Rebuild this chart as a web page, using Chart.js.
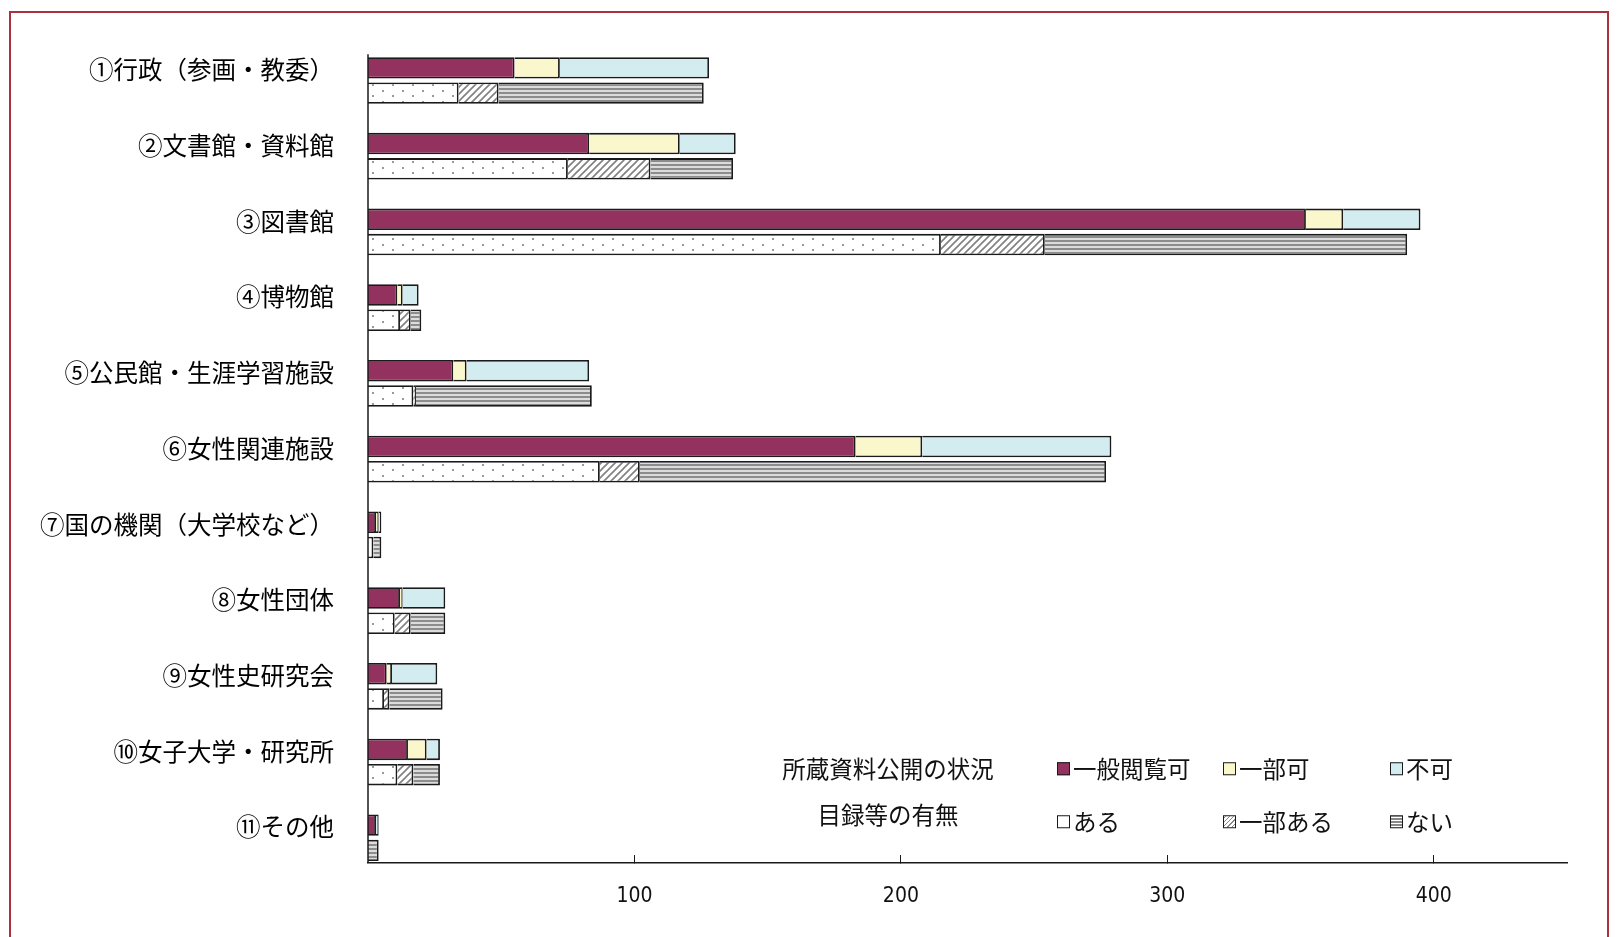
<!DOCTYPE html>
<html>
<head>
<meta charset="utf-8">
<script src="https://cdn.jsdelivr.net/npm/chart.js@4.4.1/dist/chart.umd.min.js"></script>
<style>
body{margin:0;background:#fff;overflow:hidden}
#wrap{position:relative;width:1618px;height:937px}
#frame{position:absolute;left:9px;top:11px;width:1600px;height:1000px;border:2px solid #a8323e;box-sizing:border-box}
canvas{position:absolute;left:0;top:0}
.lg{position:absolute;font-family:"Noto Sans CJK JP",sans-serif;font-size:23.5px;color:#111;white-space:nowrap;line-height:1}
.lg-title{transform:translate(-50%,-50%)}
.lg-item{transform:translateY(-50%);display:flex;align-items:center;gap:3px}
.box{display:inline-block;width:11px;height:11px;border:1.5px solid #1a1a1a;background:#fff}
</style>
</head>
<body>
<div id="wrap">
  <canvas id="chart" width="1618" height="937"></canvas>
  <div id="frame"></div>
  <div class="lg lg-title" style="left:888px;top:769px">所蔵資料公開の状況</div>
  <div class="lg lg-title" style="left:888px;top:815px">目録等の有無</div>
  <div class="lg lg-item" style="left:1057px;top:769px"><span class="box" style="background:#93325f"></span>一般閲覧可</div>
  <div class="lg lg-item" style="left:1223px;top:769px"><span class="box" style="background:#fbf7cc"></span>一部可</div>
  <div class="lg lg-item" style="left:1390px;top:769px"><span class="box" style="background:#d2ecf0"></span>不可</div>
  <div class="lg lg-item" style="left:1057px;top:822px"><span class="box"></span>ある</div>
  <div class="lg lg-item" style="left:1223px;top:822px"><span class="box" style="background:repeating-linear-gradient(-45deg,#fff 0 2px,#888 2px 3px)"></span>一部ある</div>
  <div class="lg lg-item" style="left:1390px;top:822px"><span class="box" style="background:repeating-linear-gradient(0deg,#fff 0 1px,#888 1px 3px)"></span>ない</div>
</div>
<script>
const categories = ['①行政（参画・教委）', '②文書館・資料館', '③図書館', '④博物館', '⑤公民館・生涯学習施設',
  '⑥女性関連施設', '⑦国の機関（大学校など）', '⑧女性団体', '⑨女性史研究会', '⑩女子大学・研究所', '⑪その他'];

// 所蔵資料公開の状況
const ippanEtsuran = [55, 83, 352, 11, 32, 183, 3, 12, 7, 15, 3];
const ichibuKa     = [17, 34, 14, 2, 5, 25, 1, 1, 2, 7, 0];
const fuka         = [56, 21, 29, 6, 46, 71, 1, 16, 17, 5, 1];

// 目録等の有無
const aru          = [34, 75, 215, 12, 17, 87, 2, 10, 6, 11, 0];
const ichibuAru    = [15, 31, 39, 4, 1, 15, 0, 6, 2, 6, 0];
const nai          = [77, 31, 136, 4, 66, 175, 3, 13, 20, 10, 4];

const xTicks = [100, 200, 300, 400];

function makePattern(w, h, draw) {
  const c = document.createElement('canvas');
  c.width = w; c.height = h;
  const g = c.getContext('2d');
  g.fillStyle = '#fff';
  g.fillRect(0, 0, w, h);
  draw(g);
  return document.getElementById('chart').getContext('2d').createPattern(c, 'repeat');
}

const dots = makePattern(20, 11, g => {
  g.fillStyle = '#9a9a9a';
  g.fillRect(2, 2, 2, 2);
  g.fillRect(12, 7, 2, 2);
});
const hatch = makePattern(7, 7, g => {
  g.strokeStyle = '#808080';
  g.lineWidth = 1.6;
  g.beginPath();
  g.moveTo(-1, 8); g.lineTo(8, -1);
  g.moveTo(-1, 1); g.lineTo(1, -1);
  g.moveTo(6, 8); g.lineTo(8, 6);
  g.stroke();
});
const stripes = makePattern(4, 4, g => {
  g.fillStyle = '#dcdcdc';
  g.fillRect(0, 0, 4, 4);
  g.fillStyle = '#8c8c8c';
  g.fillRect(0, 0, 4, 2);
});

const zeros = categories.map(() => 0);
const edge = '#1a1a1a';

function ds(label, data, bg, stack) {
  return { label, data, backgroundColor: bg, borderColor: edge, borderWidth: 1.8, stack };
}

const yAxisLine = {
  id: 'yAxisLine',
  afterDraw(chart) {
    const el = chart.getDatasetMeta(1).data[0];
    const top = el.y - el.height / 2 - 3;
    const ctx = chart.ctx;
    ctx.save();
    ctx.strokeStyle = edge;
    ctx.lineWidth = 1.5;
    ctx.beginPath();
    ctx.moveTo(chart.chartArea.left, top);
    ctx.lineTo(chart.chartArea.left, chart.chartArea.bottom);
    ctx.stroke();
    ctx.restore();
  }
};

new Chart(document.getElementById('chart'), {
  type: 'bar',
  data: {
    labels: categories,
    datasets: [
      { label: '', data: zeros, backgroundColor: 'rgba(0,0,0,0)', borderWidth: 0, stack: 'gap' },
      ds('一般閲覧可', ippanEtsuran, '#93325f', 'koukai'),
      ds('一部可', ichibuKa, '#fbf7cc', 'koukai'),
      ds('不可', fuka, '#d2ecf0', 'koukai'),
      ds('ある', aru, dots, 'mokuroku'),
      ds('一部ある', ichibuAru, hatch, 'mokuroku'),
      ds('ない', nai, stripes, 'mokuroku')
    ]
  },
  options: {
    indexAxis: 'y',
    responsive: false,
    devicePixelRatio: 1,
    animation: false,
    categoryPercentage: 1.0,
    barPercentage: 0.85,
    layout: { padding: { top: 30, right: 51, left: 0, bottom: 0 } },
    plugins: { legend: { display: false }, tooltip: { enabled: false } },
    scales: {
      x: {
        stacked: true,
        min: 0,
        max: 450,
        afterBuildTicks: s => { s.ticks = xTicks.map(v => ({ value: v })); },
        afterFit: s => { s.height = 74; s.paddingLeft = 0; s.paddingRight = 0; },
        grid: { drawOnChartArea: false, drawTicks: true, tickLength: -8, color: edge },
        border: { display: true, color: edge, width: 1.5 },
        ticks: {
          padding: 29,
          color: '#111',
          font: { family: "'Liberation Sans Narrow', 'DejaVu Sans Condensed', sans-serif", size: 21 }
        }
      },
      y: {
        stacked: true,
        afterFit: s => { s.width = 368; s.paddingTop = 0; s.paddingBottom = 0; },
        grid: { display: false },
        border: { display: false },
        ticks: {
          padding: 26,
          labelOffset: 2,
          color: '#000',
          font: { family: "'Noto Sans CJK JP', sans-serif", size: 24.5 }
        }
      }
    }
  },
  plugins: [yAxisLine]
});
</script>
</body>
</html>
